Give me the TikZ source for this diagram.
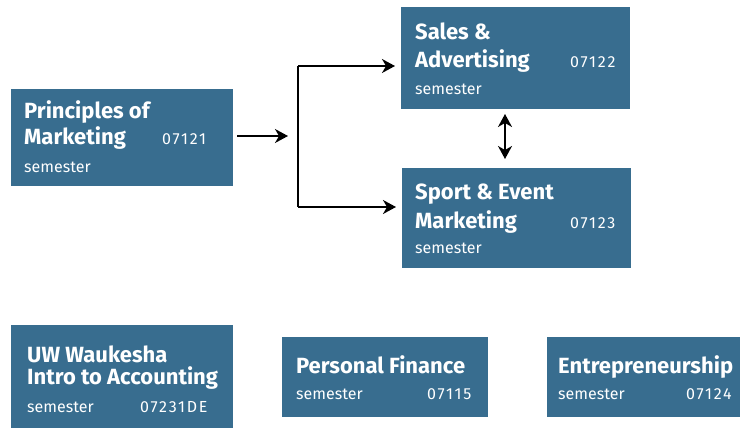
\documentclass[tikz,border=0pt]{standalone}
\usepackage{fontspec}
\setmainfont{Fira Sans}
\usepackage{tikz}
\usetikzlibrary{arrows.meta, calc}

\definecolor{cbox}{HTML}{386D8F}

\tikzset{
    >={Stealth[length=13pt, width=14pt, inset=4pt]},
    box/.style={fill=cbox, draw=none, anchor=north west, inner sep=0pt, outer sep=0pt},
    title/.style={anchor=base west, inner sep=0pt, text=white, font=\fontsize{22}{26}\selectfont\bfseries},
    info/.style={anchor=base west, inner sep=0pt, text=white, font=\fontsize{16}{19}\selectfont},
    num/.style={info, font=\addfontfeature{LetterSpace=11}\fontsize{16}{19}\selectfont},
    link/.style={line width=1.5pt, ->}
}

\begin{document}
\begin{tikzpicture}[x=1pt, y=-1pt]
        \useasboundingbox (0,0) rectangle (740,428);

        % course boxes
        \node[box, minimum width=222pt, minimum height=97pt] (pm) at (11,89) {};
        \node[box, minimum width=229pt, minimum height=102pt] (sa) at (401,7) {};
        \node[box, minimum width=229pt, minimum height=100pt] (se) at (402,168) {};
        \node[box, minimum width=222pt, minimum height=103pt] (uw) at (11,325) {};
        \node[box, minimum width=206pt, minimum height=80pt] (pf) at (282,337) {};
        \node[box, minimum width=193pt, minimum height=80pt] (en) at (547,337) {};

        % texts
        \node[title] (pm-a) at (24,118) {Principles of};
        \node[title] (pm-b) at (24,145) {Marketing};
        \node[num] (pm-n) at (162,145) {07121};
        \node[info] (pm-s) at (24,172) {semester};

        \node[title] (sa-a) at (415,40) {Sales \&};
        \node[title] (sa-b) at (415,68) {Advertising};
        \node[num] (sa-n) at (570,68) {07122};
        \node[info] (sa-s) at (415,95) {semester};

        \node[title] (se-a) at (415,199) {Sport \& Event};
        \node[title] (se-b) at (415,228) {Marketing};
        \node[num] (se-n) at (570,228) {07123};
        \node[info] (se-s) at (415,253) {semester};

        \node[title] (uw-a) at (27,362) {UW Waukesha};
        \node[title] (uw-b) at (27,384) {Intro to Accounting};
        \node[info] (uw-s) at (27,412) {semester};
        \node[num] (uw-n) at (140,412) {07231DE};

        \node[title] (pf-a) at (296,373) {Personal Finance};
        \node[info] (pf-s) at (296,399) {semester};
        \node[num] (pf-n) at (427,399) {07115};

        \node[title] (en-a) at (558,373) {Entrepreneurship};
        \node[info] (en-s) at (558,399) {semester};
        \node[num] (en-n) at (686,399) {07124};

        % connectors
        \coordinate (split) at (298,136);
        \coordinate (forktop) at (298,66);
        \coordinate (forkbot) at (298,207);

        \draw[link, shorten <=4pt, shorten >=10pt] (pm.east |- split) -- (split);
        \draw[line width=1.5pt] (forktop) -- (forkbot);
        \draw[link, shorten >=6pt] (forktop) -- (sa.west |- forktop);
        \draw[link, shorten >=6pt] (forkbot) -- (se.west |- forkbot);
        \draw[link, <->, shorten <=5pt, shorten >=9pt] ([xshift=-10.5pt]sa.south) -- ([xshift=-10.5pt]sa.south |- se.north);

    \end{tikzpicture}
\end{document}
